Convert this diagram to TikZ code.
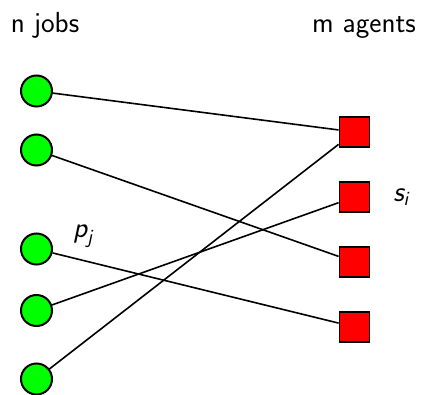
\documentclass[tikz,border=0pt]{standalone}
\usepackage{amsmath}
\newcommand{\sfit}[1]{\textsf{\itshape #1}}
\begin{document}
\begin{tikzpicture}[x=1pt,y=-1pt,
  font=\sffamily\fontsize{29}{35}\selectfont,
  job/.style={circle, draw=black, fill=green, line width=2pt, minimum size=31pt, inner sep=0pt},
  agent/.style={rectangle, draw=black, fill=red, line width=1.8pt, minimum size=30pt, inner sep=0pt},
  link/.style={draw=black, line width=1.6pt}]
\useasboundingbox (0,0) rectangle (422,395);
% headings
\node[anchor=base] (hj) at (45,33) {n jobs};
\node[anchor=base] (ha) at (364,33) {m agents};
% jobs
\node[job] (j1) at (36.5,91) {};
\node[job] (j2) at (36.5,150) {};
\node[job] (j3) at (36.5,249) {};
\node[job] (j4) at (36.5,310.5) {};
\node[job] (j5) at (36.5,379) {};
% agents
\node[agent] (a1) at (354.5,132) {};
\node[agent] (a2) at (354.5,197) {};
\node[agent] (a3) at (354.5,262) {};
\node[agent] (a4) at (354.5,327) {};
% labels
\node[anchor=base] (pj) at (83,237) {$\sfit{p}_{\sfit{j}}$};
\node[anchor=base] (si) at (401,201) {$\sfit{s}_{\sfit{i}}$};
% assignments
\draw[link] (j1) -- (a1);
\draw[link] (j2) -- (a3);
\draw[link] (j3) -- (a4);
\draw[link] (j4) -- (a2);
\draw[link] (j5) -- (a1);
\end{tikzpicture}
\end{document}
